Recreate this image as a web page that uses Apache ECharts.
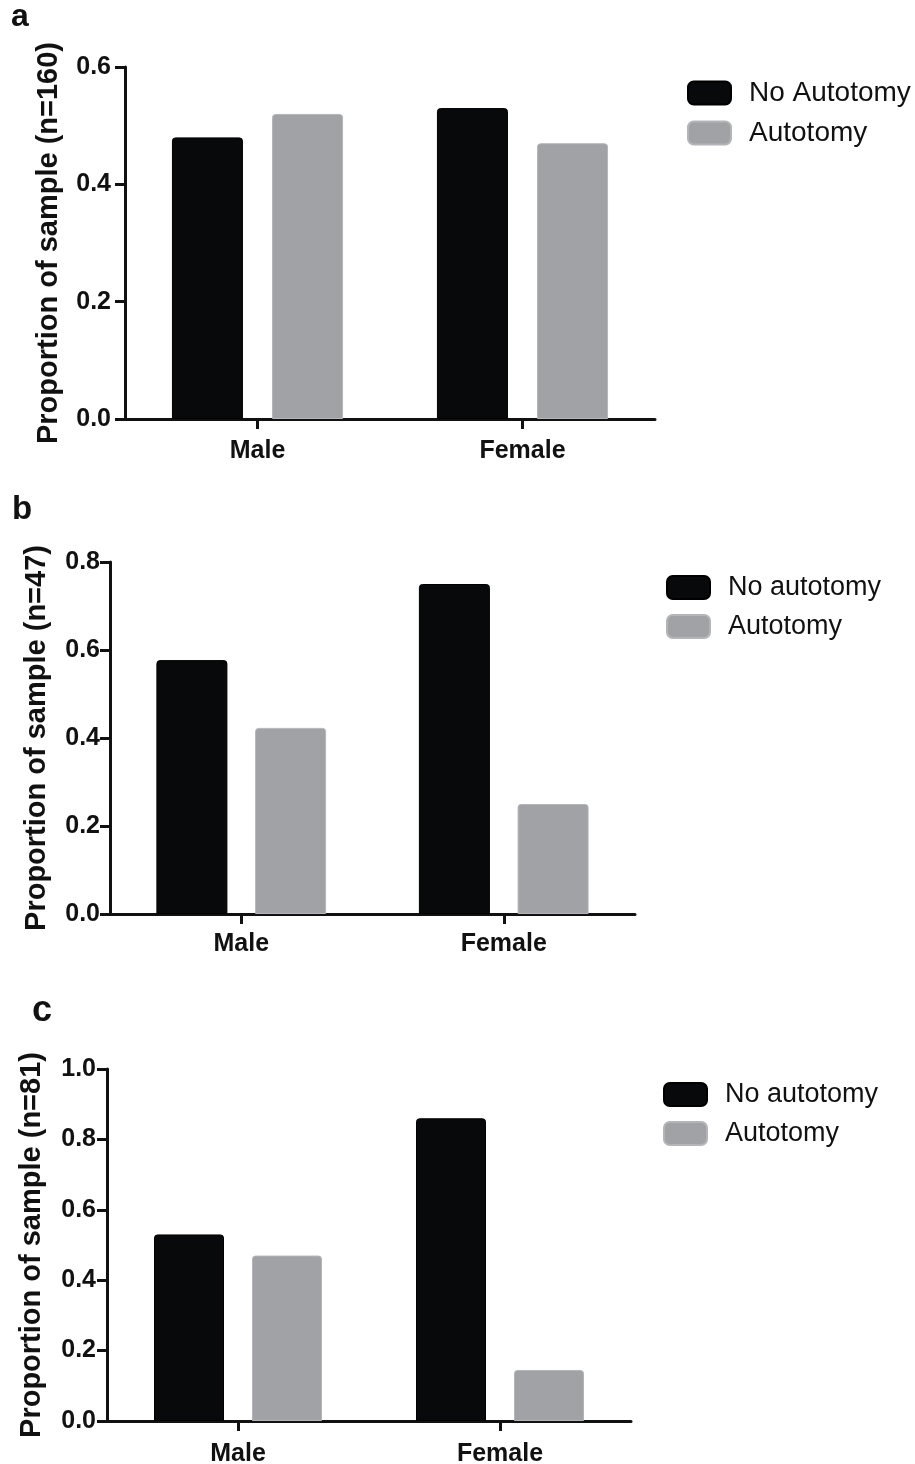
<!DOCTYPE html>
<html>
<head>
<meta charset="utf-8">
<script src="https://cdn.jsdelivr.net/npm/echarts@6/dist/echarts.min.js"></script>
<style>
  html, body { margin: 0; padding: 0; background: #ffffff; }
  #chart { width: 915px; height: 1464px; }
</style>
</head>
<body>
<div id="chart"></div>
<script>
// Sex categories shared by all three panels
const categories = ['Male', 'Female'];

// Panel a (n=160)
const aNoAutotomy = [0.48, 0.53];
const aAutotomy = [0.52, 0.47];
const aTicks = { max: 0.6, interval: 0.2 };

// Panel b (n=47)
const bNoAutotomy = [0.577, 0.75];
const bAutotomy = [0.423, 0.25];
const bTicks = { max: 0.8, interval: 0.2 };

// Panel c (n=81)
const cNoAutotomy = [0.53, 0.86];
const cAutotomy = [0.47, 0.145];
const cTicks = { max: 1.0, interval: 0.2 };

const FONT = "'Liberation Sans', Arial, Helvetica, sans-serif";
const BLACK = '#08090a';
const GREY = '#a1a2a6';
const AXIS = '#111111';

const panels = [
  { letter: 'a', yName: 'Proportion of sample (n=160)', no: aNoAutotomy, yes: aAutotomy, ticks: aTicks,
    noName: 'No Autotomy', yesName: 'Autotomy',
    grid: { left: 125, top: 67, width: 530, height: 352 },
    nameGap: 62, yLabelMargin: 14, xLabelMargin: 20, barWidth: 71, barGap: '41%',
    legend: { left: 687, top: 79 }, legendFont: 28,
    letterPos: { x: 11, y: 33 }, letterSize: 32 },
  { letter: 'b', yName: 'Proportion of sample (n=47)', no: bNoAutotomy, yes: bAutotomy, ticks: bTicks,
    noName: 'No autotomy', yesName: 'Autotomy',
    grid: { left: 110, top: 562, width: 525, height: 352 },
    nameGap: 59, yLabelMargin: 10, xLabelMargin: 18, barWidth: 71, barGap: '39%',
    legend: { left: 666, top: 574 }, legendFont: 27,
    letterPos: { x: 12, y: 526 }, letterSize: 33 },
  { letter: 'c', yName: 'Proportion of sample (n=81)', no: cNoAutotomy, yes: cAutotomy, ticks: cTicks,
    noName: 'No autotomy', yesName: 'Autotomy',
    grid: { left: 107, top: 1069, width: 524, height: 352 },
    nameGap: 61, yLabelMargin: 11, xLabelMargin: 21, barWidth: 70, barGap: '40%',
    legend: { left: 663, top: 1081 }, legendFont: 27,
    letterPos: { x: 32, y: 1029 }, letterSize: 36 }
];

const grids = [], xAxes = [], yAxes = [], series = [], legends = [], texts = [];

panels.forEach((p, i) => {
  grids.push(Object.assign({ containLabel: false, outerBoundsMode: 'none' }, p.grid));

  xAxes.push({
    type: 'category', gridIndex: i, data: categories,
    axisLine: { show: true, lineStyle: { color: AXIS, width: 3 } },
    axisTick: { show: true, alignWithLabel: true, length: 10, lineStyle: { color: AXIS, width: 3 } },
    axisLabel: { color: '#111', fontFamily: FONT, fontWeight: 'bold', fontSize: 25, margin: p.xLabelMargin },
    splitLine: { show: false }
  });

  yAxes.push({
    type: 'value', gridIndex: i, min: 0, max: p.ticks.max, interval: p.ticks.interval,
    name: p.yName, nameLocation: 'middle', nameRotate: 90, nameGap: p.nameGap,
    nameTextStyle: { color: '#111', fontFamily: FONT, fontWeight: 'bold', fontSize: 29 },
    axisLine: { show: true, lineStyle: { color: AXIS, width: 3 } },
    axisTick: { show: true, length: 10, lineStyle: { color: AXIS, width: 3 } },
    axisLabel: { color: '#111', fontFamily: FONT, fontWeight: 'bold', fontSize: 25, margin: p.yLabelMargin,
      formatter: v => v.toFixed(1) },
    splitLine: { show: false }
  });

  series.push({
    type: 'bar', name: p.noName, xAxisIndex: i, yAxisIndex: i, data: p.no,
    barWidth: p.barWidth, barGap: p.barGap,
    itemStyle: { color: BLACK, borderColor: '#000', borderWidth: 1, borderRadius: [3, 3, 0, 0] },
    emphasis: { disabled: true }
  });
  series.push({
    type: 'bar', name: p.yesName, xAxisIndex: i, yAxisIndex: i, data: p.yes,
    barWidth: p.barWidth, barGap: p.barGap,
    itemStyle: { color: GREY, borderColor: '#b4b5b8', borderWidth: 1, borderRadius: [3, 3, 0, 0] },
    emphasis: { disabled: true }
  });

  legends.push({
    left: p.legend.left, top: p.legend.top, orient: 'vertical', padding: 0,
    itemWidth: 43, itemHeight: 23, itemGap: 12, icon: 'roundRect',
    data: [p.noName, p.yesName], selectedMode: false,
    textStyle: { color: '#111', fontFamily: FONT, fontSize: p.legendFont, padding: [0, 0, 0, 13] }
  });

  texts.push({
    type: 'text', left: p.letterPos.x, top: p.letterPos.y - p.letterSize,
    style: { text: p.letter, fill: '#111', font: 'bold ' + p.letterSize + 'px ' + FONT }
  });
});

const chart = echarts.init(document.getElementById('chart'), null, { renderer: 'canvas' });
chart.setOption({
  animation: false,
  backgroundColor: '#ffffff',
  grid: grids,
  xAxis: xAxes,
  yAxis: yAxes,
  legend: legends,
  series: series,
  graphic: texts
});
</script>
</body>
</html>
